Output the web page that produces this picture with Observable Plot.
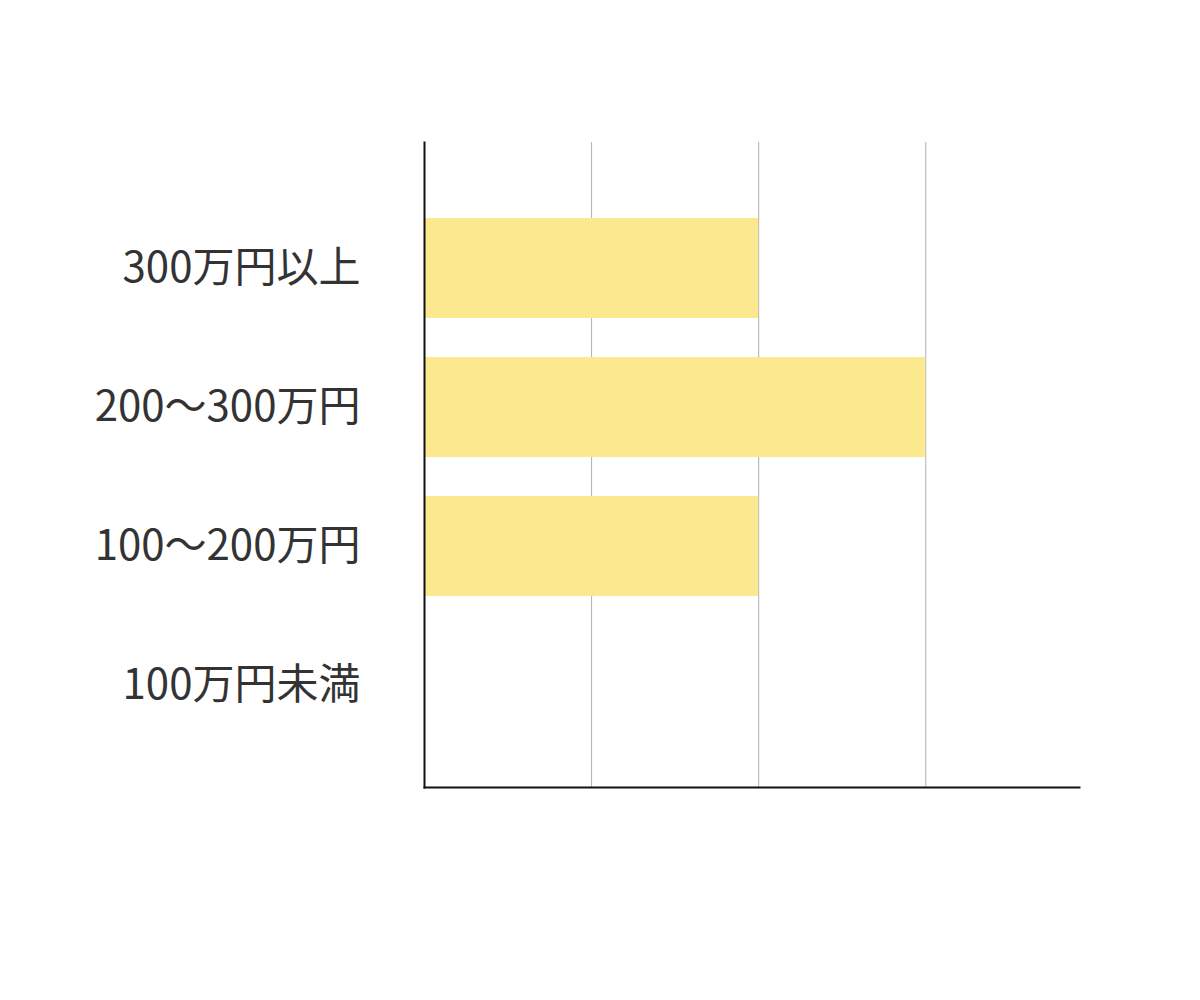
<!DOCTYPE html>
<html>
<head>
<meta charset="utf-8">
<script src="https://cdn.jsdelivr.net/npm/d3@7"></script>
<script src="https://cdn.jsdelivr.net/npm/@observablehq/plot@0.6"></script>
<style>
  html, body { margin: 0; padding: 0; background: #fff; }
</style>
</head>
<body>
<div id="chart"></div>
<script>
const categories = ["300万円以上", "200〜300万円", "100〜200万円", "100万円未満"];
const values = [2, 3, 2, 0];
const gridTicks = [1, 2, 3];
const xMax = 3.92;

const data = categories.map((c, i) => ({category: c, value: values[i]}));

const chart = Plot.plot({
  width: 1200,
  height: 1000,
  marginLeft: 424,
  marginRight: 121,
  marginTop: 142,
  marginBottom: 213,
  style: {fontFamily: "'Noto Sans CJK JP', 'Noto Sans', sans-serif", background: "#fff"},
  x: {domain: [0, xMax], axis: null},
  y: {type: "band", domain: categories, padding: 0.284, insetTop: 35, insetBottom: 11, axis: null},
  marks: [
    Plot.ruleX(gridTicks, {stroke: "#b0b0b0", strokeWidth: 1}),
    Plot.barX(data, {x: "value", y: "category", fill: "#fce98f"}),
    Plot.frame({anchor: "left", stroke: "#111", strokeWidth: 2}),
    Plot.frame({anchor: "bottom", stroke: "#111", strokeWidth: 2}),
    Plot.axisY({tickSize: 0, tickPadding: 64, fontSize: 42, color: "#333", label: null})
  ]
});
document.getElementById("chart").appendChild(chart);
</script>
</body>
</html>
